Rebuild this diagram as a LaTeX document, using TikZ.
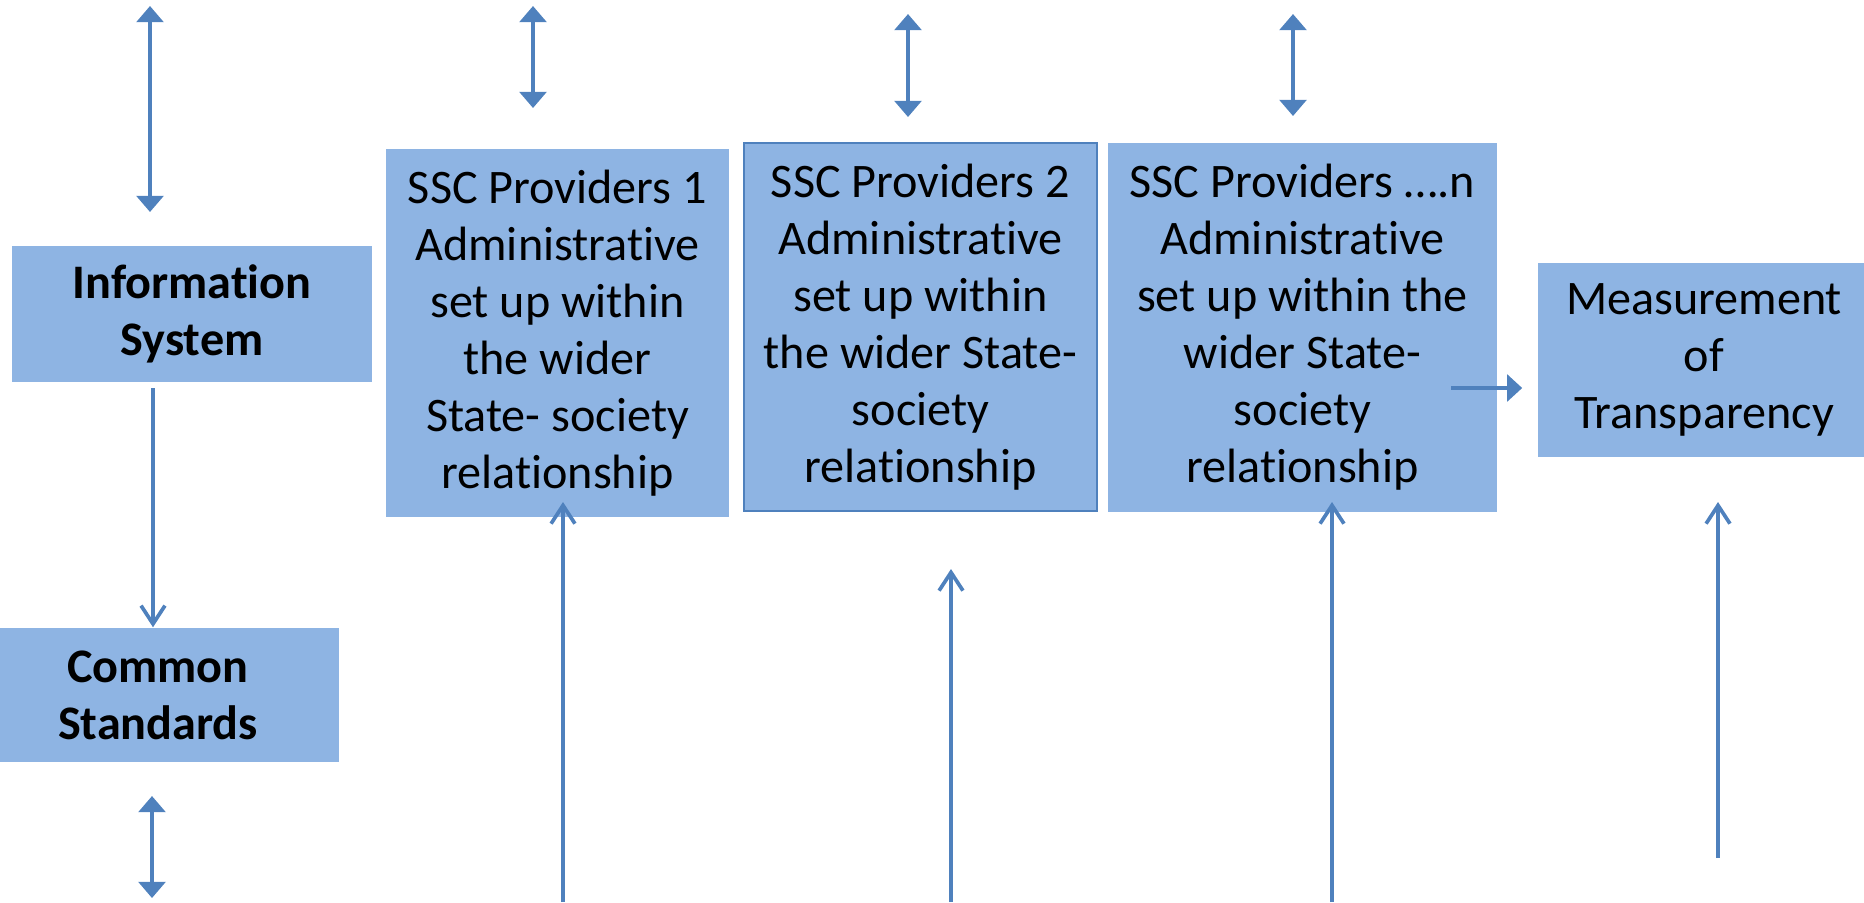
\documentclass[tikz,border=0pt]{standalone}
\usepackage{fontspec}
\setmainfont[Ligatures={NoCommon}]{Carlito}
\usetikzlibrary{arrows.meta}
\definecolor{boxblue}{RGB}{142,180,227}
\definecolor{arrblue}{RGB}{79,129,189}
\tikzset{
  box/.style={fill=boxblue, align=center, inner sep=0pt, font=\fontsize{13.7}{16.2}\selectfont},
  headbox/.style={box, font=\fontsize{13.7}{16.2}\selectfont\bfseries},
  twoway/.style={draw=arrblue, line width=1.05pt, {Triangle[length=4.6pt,width=7.6pt]}-{Triangle[length=4.6pt,width=7.6pt]}},
  upway/.style={draw=arrblue, line width=1.05pt, -{Straight Barb[length=5.2pt,width=6.8pt]}},
  sideway/.style={draw=arrblue, line width=1.05pt, -{Triangle[length=4.3pt,width=7.6pt]}}
}
\begin{document}
\begin{tikzpicture}[x=0.01cm,y=-0.01cm]
    \useasboundingbox (0,0) rectangle (1864,902);
    % left column
    \node[headbox, minimum width=3.6cm, minimum height=1.36cm] (info) at (192,314) {Information\\System};
    \node[headbox, minimum width=3.62cm, minimum height=1.34cm] (common) at (158,695) {Common\\Standards};
    % providers
    \node[box, minimum width=3.43cm, minimum height=3.68cm] (ssc1) at (557.5,333)
        {SSC Providers 1\\Administrative\\set up within\\the wider\\State- society\\relationship};
    \node[box, draw=arrblue, line width=0.6pt, minimum width=3.53cm, minimum height=3.68cm] (ssc2) at (920.5,327)
        {SSC Providers 2\\Administrative\\set up within\\the wider State-\\society\\relationship};
    \node[box, minimum width=3.89cm, minimum height=3.69cm] (sscn) at (1302.5,327.5)
        {SSC Providers ….n\\Administrative\\set up within the\\wider State-\\society\\relationship};
    \node[box, minimum width=3.32cm, minimum height=1.94cm] (meas) at (1704,360)
        {Measurement\\of\\Transparency};
    % two-way arrows
    \foreach \i/\x/\ya/\yb in {1/150/6/212,2/533/6/108,3/908/14/117,4/1293/14/116,5/152/796/898} {
        \coordinate (tw\i) at (\x,\ya);
        \coordinate (bw\i) at (\x,\yb);
        \draw[twoway] (tw\i) -- (bw\i);
    }
    % arrows from below
    \foreach \i/\x/\ya/\yb in {1/563/902/502,2/951/902/569,3/1332/902/502,4/1718/858/502} {
        \coordinate (lo\i) at (\x,\ya);
        \coordinate (hi\i) at (\x,\yb);
        \draw[upway] (lo\i) -- (hi\i);
    }
    \coordinate (down) at (153,388);
    \draw[upway] (down) -- (down |- common.north);
    \coordinate (side) at (1451,388);
    \draw[sideway] (side) -- ([xshift=-0.15cm]meas.west |- side);
\end{tikzpicture}
\end{document}
